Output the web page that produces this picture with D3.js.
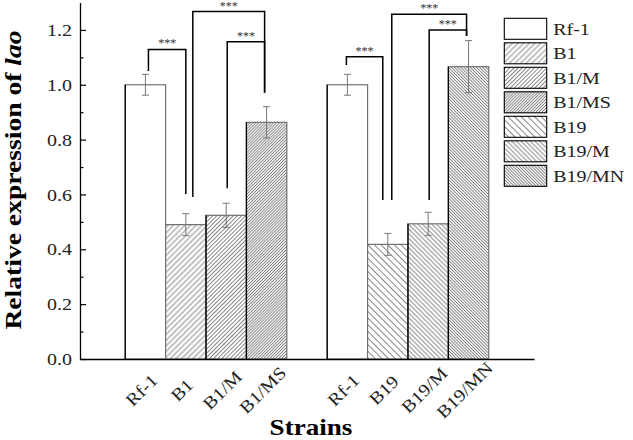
<!DOCTYPE html>
<html>
<head>
<meta charset="UTF-8" />
<script src="https://cdn.jsdelivr.net/npm/d3@7"></script>
<title>Relative expression of lao</title>
<style>
    body { margin: 0; background: white; }
    svg { font-family: "Liberation Serif", Tinos, "Times New Roman", Times, serif; }
</style>
</head>
<body>
<div id="chart"></div>
<script>
// two groups of strains, each compared against Rf-1
const group1 = ["Rf-1", "B1", "B1/M", "B1/MS"];
const group2 = ["Rf-1", "B19", "B19/M", "B19/MN"];
const values1 = [1.0, 0.49, 0.524, 0.863];
const errors1 = [0.038, 0.04, 0.044, 0.057];
const values2 = [1.0, 0.418, 0.493, 1.066];
const errors2 = [0.038, 0.04, 0.042, 0.095];
const legendNames = ["Rf-1", "B1", "B1/M", "B1/MS", "B19", "B19/M", "B19/MN"];
const yTicks = [0, 0.2, 0.4, 0.6, 0.8, 1.0, 1.2];
const yMinor = [0.1, 0.3, 0.5, 0.7, 0.9, 1.1];
// significance brackets (bar index inside group, bracket level, leg ends)
const brackets = [
    {g: 0, from: 0, to: 1, level: 1.129, endFrom: 1.05, endTo: 0.602, label: "***"},
    {g: 0, from: 1, to: 3, level: 1.267, endFrom: 0.591, endTo: 0.971, label: "***"},
    {g: 0, from: 2, to: 3, level: 1.157, endFrom: 0.623, endTo: 0.971, label: "***"},
    {g: 1, from: 0, to: 1, level: 1.102, endFrom: 1.072, endTo: 0.58, label: "***"},
    {g: 1, from: 1, to: 3, level: 1.257, endFrom: 0.58, endTo: 1.178, label: "***"},
    {g: 1, from: 2, to: 3, level: 1.20, endFrom: 0.58, endTo: 1.178, label: "***"}
];
// small px nudges of the bracket legs off the bar centres
const legNudge = [[3, 0], [7, -2], [1, -2], [-1, -5], [4, -2], [1, -2]];

const w = 633, h = 440;
const plotLeft = 80, plotRight = 534, plotBottom = 359, plotTop = 2.5;
const sx = 1.14; // the original font is a bit wider than Liberation Serif

// hatch: angle, gap
const hatch = {
    "B1": [45, 4], "B1/M": [45, 2.9], "B1/MS": [45, 2.1],
    "B19": [-45, 4.7], "B19/M": [-45, 3.3], "B19/MN": [-45, 2.2]
};

const svg = d3.select("#chart").append("svg")
    .attr("width", w).attr("height", h);
const defs = svg.append("defs");
const patId = name => "pat-" + name.replace(/[^A-Za-z0-9]/g, "_");
Object.keys(hatch).forEach(name => {
    const [ang, gap] = hatch[name];
    const p = defs.append("pattern").attr("id", patId(name))
        .attr("patternUnits", "userSpaceOnUse")
        .attr("width", gap).attr("height", gap)
        .attr("patternTransform", "rotate(" + ang + ")");
    p.append("rect").attr("width", gap).attr("height", gap).attr("fill", "white");
    p.append("line").attr("x1", gap / 2).attr("x2", gap / 2)
        .attr("y1", 0).attr("y2", gap)
        .attr("stroke", "#7a7a7a").attr("stroke-width", 0.9);
});
const fillOf = name => hatch[name] ? "url(#" + patId(name) + ")" : "white";

const bars = [];
[[group1, values1, errors1], [group2, values2, errors2]].forEach(([names, vals, errs], g) => {
    names.forEach((n, i) => bars.push({
        key: "g" + g + "-" + i, g: g, i: i, name: n, value: vals[i], err: errs[i],
        prev: i > 0 ? vals[i - 1] : null
    }));
});
const slots = bars.slice(0, 4).map(d => d.key).concat(["gap"], bars.slice(4).map(d => d.key));

const x = d3.scaleBand().domain(slots).range([plotLeft, plotRight])
    .paddingInner(0).paddingOuter(1.12);
const y = d3.scaleLinear().domain([0, 1.3]).range([plotBottom, plotTop]);
const cx = key => x(key) + x.bandwidth() / 2;

// bars
svg.append("g").selectAll("rect").data(bars).enter().append("rect")
    .attr("x", d => x(d.key)).attr("y", d => y(d.value))
    .attr("width", x.bandwidth()).attr("height", d => y(0) - y(d.value))
    .attr("fill", d => fillOf(d.name))
    .attr("stroke", "#707070").attr("stroke-width", 1.2);
svg.append("g").selectAll("line").data(bars.filter(d => d.prev === null || d.value > d.prev))
    .enter().append("line")
    .attr("x1", d => x(d.key)).attr("x2", d => x(d.key))
    .attr("y1", y(0)).attr("y2", d => y(d.value))
    .attr("stroke", "black").attr("stroke-width", 1.3);

// error bars
const eb = svg.append("g").attr("stroke", "#777").attr("stroke-width", 1)
    .selectAll("g").data(bars).enter().append("g");
eb.append("line").attr("x1", d => cx(d.key)).attr("x2", d => cx(d.key))
    .attr("y1", d => y(d.value + d.err)).attr("y2", d => y(d.value - d.err));
eb.append("line").attr("x1", d => cx(d.key) - 3.5).attr("x2", d => cx(d.key) + 3.5)
    .attr("y1", d => y(d.value + d.err)).attr("y2", d => y(d.value + d.err));
eb.append("line").attr("x1", d => cx(d.key) - 3.5).attr("x2", d => cx(d.key) + 3.5)
    .attr("y1", d => y(d.value - d.err)).attr("y2", d => y(d.value - d.err));

// significance brackets
brackets.forEach((b, k) => {
    const xf = cx("g" + b.g + "-" + b.from) + legNudge[k][0];
    const xt = cx("g" + b.g + "-" + b.to) + legNudge[k][1];
    svg.append("path")
        .attr("d", "M" + xf + "," + y(b.endFrom) + "V" + y(b.level) + "H" + xt + "V" + y(b.endTo))
        .attr("fill", "none").attr("stroke", "black").attr("stroke-width", 1.5);
    svg.append("text").attr("x", (xf + xt) / 2).attr("y", y(b.level) - 2)
        .attr("text-anchor", "middle").attr("font-size", 12).attr("fill", "#333")
        .text(b.label);
});

// y axis, ticks pointing in
const yAxis = svg.append("g").attr("transform", "translate(" + plotLeft + ",0)")
    .call(d3.axisLeft(y).tickValues(yTicks).tickFormat(d3.format(".1f"))
        .tickSizeInner(-6).tickSizeOuter(0).tickPadding(8));
yAxis.append("g").call(d3.axisLeft(y).tickValues(yMinor).tickFormat("")
    .tickSizeInner(-3.5).tickSizeOuter(0))
    .select(".domain").remove();
yAxis.attr("font-family", null);
yAxis.selectAll(".domain").attr("stroke-width", 1.3);
yAxis.selectAll(".tick line").attr("stroke-width", 1.2);
yAxis.selectAll(".tick text")
    .attr("font-size", 17.5).attr("fill", "#222")
    .attr("x", null).attr("transform", "translate(-8,0) scale(" + sx + ",1)");

// x axis
const xAxis = svg.append("g").attr("transform", "translate(0," + plotBottom + ")")
    .call(d3.axisBottom(x).tickValues(bars.map(d => d.key))
        .tickFormat(k => bars.find(d => d.key === k).name)
        .tickSize(0).tickSizeOuter(0));
xAxis.attr("font-family", null);
xAxis.select(".domain").attr("stroke-width", 1.5);
xAxis.selectAll(".tick text")
    .attr("font-size", 17.5).attr("fill", "#222")
    .attr("y", null).attr("dy", "0.35em").attr("text-anchor", "middle")
    .attr("transform", "translate(-4,31) rotate(-45) scale(" + sx + ",1)");

// legend
const lg = svg.append("g").selectAll("g").data(legendNames).enter().append("g")
    .attr("transform", (d, i) => "translate(504.3," + (18.3 + i * 24.5) + ")");
lg.append("rect").attr("width", 42.4).attr("height", 21)
    .attr("fill", d => fillOf(d)).attr("stroke", "black").attr("stroke-width", 1.1);
lg.append("text").attr("font-size", 17.5).attr("fill", "#222")
    .attr("dy", "0.35em")
    .attr("transform", "translate(49,10.5) scale(" + sx + ",1)")
    .text(d => d);

// axis titles
const yt = svg.append("text").attr("text-anchor", "middle")
    .attr("font-size", 24).attr("font-weight", "bold")
    .attr("transform", "translate(21,180) rotate(-90) scale(1.15,1)");
yt.append("tspan").text("Relative expression of ");
yt.append("tspan").attr("font-style", "italic").text("lao");
svg.append("text").attr("text-anchor", "middle")
    .attr("font-size", 24).attr("font-weight", "bold")
    .attr("transform", "translate(311,434.5) scale(1.13,1)")
    .text("Strains");
</script>
</body>
</html>
